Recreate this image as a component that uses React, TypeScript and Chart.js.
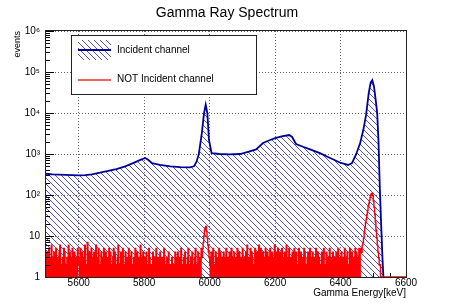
import React, { useEffect, useRef } from "react";
import { Chart, registerables } from "chart.js";

Chart.register(...registerables);

const FONT = "'Liberation Sans', Arial, Helvetica, sans-serif";

const TITLE = "Gamma Ray Spectrum";
const X_TITLE = "Gamma Energy[keV]";
const Y_TITLE = "events";
const X_MIN = 5500;
const X_MAX = 6600;
const X_TICKS = [5600, 5800, 6000, 6200, 6400, 6600];
const X_MINOR_STEP = 50;
const Y_MIN = 1;
const Y_MAX = 1000000;
const Y_TICKS = [1, 10, 100, 1000, 10000, 100000, 1000000];
const Y_TICK_LABELS = ["1", "10", "10²", "10³", "10⁴", "10⁵", "10⁶"];

const INCIDENT_LABEL = "Incident channel";
const NOT_INCIDENT_LABEL = "NOT Incident channel";

// Incident channel spectrum (keV, counts)
const INCIDENT_ENERGY = [
  5500, 5520, 5540, 5560, 5580, 5600, 5620, 5640, 5665, 5690, 5715, 5740, 5766,
  5785, 5803, 5812, 5824, 5848, 5880, 5910, 5940, 5952, 5960, 5967, 5976, 5983,
  5988, 5993, 5998, 6006, 6030, 6060, 6093, 6120, 6142, 6163, 6185, 6200, 6220,
  6243, 6252, 6264, 6285, 6307, 6337, 6368, 6398, 6423, 6435, 6448, 6460, 6470,
  6478, 6486, 6492, 6497, 6502, 6507, 6512, 6516, 6520, 6524, 6528, 6531,
];
const INCIDENT_COUNTS = [
  330, 320, 315, 310, 305, 300, 305, 320, 350, 390, 430, 490, 600,
  700, 800, 720, 600, 540, 500, 480, 470, 500, 650, 1000, 3200, 10000,
  16000, 10000, 2200, 1050, 1000, 980, 1000, 1150, 1300, 1850, 2200, 2450, 2700,
  2900, 2600, 1750, 1500, 1300, 1050, 800, 620, 540, 600, 1000, 1850, 4000,
  9000, 30000, 55000, 63000, 45000, 22000, 10000, 2000, 150, 20, 3, 1,
];

// NOT Incident channel histogram: 2 keV bins starting at 5500 keV (one row = 100 keV)
const NOT_BIN_START = 5500;
const NOT_BIN_WIDTH = 2;
const NOT_INCIDENT_COUNTS = [
  // 5500
  0, 4, 0, 2, 5, 0, 3, 0, 6, 2, 0, 3, 4, 0, 0, 5, 2, 0, 3, 0, 4, 6, 0, 2, 0,
  3, 0, 5, 4, 0, 2, 0, 3, 0, 6, 0, 4, 2, 0, 3, 5, 0, 0, 4, 2, 0, 3, 0, 5, 2,
  // 5600
  3, 0, 5, 0, 2, 4, 0, 3, 0, 6, 0, 2, 0, 7, 3, 0, 4, 0, 2, 5, 0, 3, 0, 4, 0,
  2, 6, 0, 3, 0, 5, 0, 2, 0, 4, 3, 0, 0, 5, 2, 0, 4, 0, 3, 0, 2, 5, 0, 4, 0,
  // 5700
  2, 0, 3, 5, 0, 4, 0, 2, 0, 3, 6, 0, 2, 0, 4, 0, 3, 5, 0, 2, 0, 4, 0, 3, 2,
  0, 5, 0, 3, 0, 4, 2, 0, 0, 3, 0, 5, 2, 0, 4, 0, 3, 0, 2, 6, 0, 3, 0, 4, 2,
  // 5800
  0, 3, 0, 4, 0, 2, 0, 5, 3, 0, 2, 0, 0, 4, 0, 3, 0, 2, 5, 0, 0, 3, 0, 0, 4,
  2, 0, 3, 0, 0, 5, 0, 2, 0, 3, 0, 0, 4, 0, 2, 0, 0, 3, 0, 2, 0, 0, 4, 3, 0,
  // 5900
  0, 4, 0, 2, 3, 0, 5, 0, 2, 0, 3, 0, 4, 2, 0, 0, 3, 5, 0, 2, 0, 3, 0, 4, 0,
  2, 0, 3, 5, 0, 2, 0, 4, 0, 3, 2, 0, 5, 3, 5, 7, 10, 14, 16, 17, 13, 9, 6, 4, 3,
  // 6000
  2, 0, 4, 0, 3, 5, 0, 2, 0, 4, 0, 3, 2, 0, 5, 0, 4, 0, 3, 2, 0, 4, 0, 3, 0,
  5, 2, 0, 3, 0, 4, 0, 2, 5, 0, 3, 0, 4, 2, 0, 3, 0, 5, 0, 2, 4, 0, 3, 0, 2,
  // 6100
  5, 0, 3, 2, 0, 4, 0, 6, 0, 3, 0, 2, 5, 0, 4, 3, 0, 2, 0, 5, 3, 0, 4, 0, 2,
  6, 0, 3, 5, 0, 2, 4, 0, 3, 0, 5, 0, 2, 4, 0, 3, 0, 5, 2, 0, 4, 0, 3, 0, 6,
  // 6200
  0, 4, 2, 0, 5, 0, 3, 4, 0, 2, 5, 0, 3, 0, 4, 2, 0, 6, 0, 3, 0, 5, 2, 0, 3,
  0, 4, 0, 2, 5, 0, 3, 4, 0, 2, 0, 5, 3, 0, 4, 2, 0, 3, 0, 5, 4, 0, 2, 0, 3,
  // 6300
  4, 0, 2, 5, 0, 3, 0, 4, 2, 0, 3, 0, 5, 0, 2, 4, 0, 3, 0, 2, 0, 4, 0, 3, 5,
  0, 2, 0, 4, 0, 3, 2, 0, 5, 0, 3, 0, 2, 4, 0, 0, 3, 0, 4, 2, 0, 5, 0, 3, 2,
  // 6400
  0, 4, 2, 0, 3, 0, 5, 2, 0, 3, 4, 0, 2, 0, 5, 3, 0, 4, 0, 2, 3, 0, 5, 0, 4,
  2, 0, 3, 5, 0, 4, 5, 4, 6, 7, 9, 12, 16, 21, 26, 33, 42, 52, 62, 75, 88, 100, 108, 110, 95,
  // 6500
  70, 50, 33, 22, 14, 9, 6, 4, 3, 2, 2, 1, 1, 0, 0, 0, 0, 0, 0, 0, 0, 0, 0, 0, 0,
  0, 0, 0, 0, 0, 0, 0, 0, 0, 0, 0, 0, 0, 0, 0, 0, 0, 0, 0, 0, 0, 0, 0, 0, 0,
];

const BLUE_LINE = "#000099";
const HATCH_COLOR = "rgba(40,40,215,0.8)";
const HATCH_STEP = 6;
const RED = "#ff0000";
const LEGEND_RED = "#e83030";

function makeHatch(): CanvasPattern | string {
  const s = HATCH_STEP;
  const c = document.createElement("canvas");
  c.width = s;
  c.height = s;
  const g = c.getContext("2d");
  if (!g) return HATCH_COLOR;
  g.strokeStyle = HATCH_COLOR;
  g.lineWidth = 1;
  g.beginPath();
  for (const off of [-s, 0, s]) {
    g.moveTo(off - 1, -1);
    g.lineTo(off + s + 1, s + 1);
  }
  g.stroke();
  return g.createPattern(c, "repeat") || HATCH_COLOR;
}

function hatchRect(ctx: CanvasRenderingContext2D, x: number, y: number, w: number, h: number) {
  ctx.save();
  ctx.beginPath();
  ctx.rect(x, y, w, h);
  ctx.clip();
  ctx.strokeStyle = HATCH_COLOR;
  ctx.lineWidth = 1;
  ctx.beginPath();
  for (let o = -h; o < w + h; o += HATCH_STEP) {
    ctx.moveTo(x + o, y);
    ctx.lineTo(x + o + h, y + h);
  }
  ctx.stroke();
  ctx.restore();
}

export default function App() {
  const ref = useRef<HTMLCanvasElement | null>(null);

  useEffect(() => {
    const canvas = ref.current;
    if (!canvas) return;
    const hatch = makeHatch();

    const bluePoints = INCIDENT_ENERGY.map((x, i) => ({ x, y: INCIDENT_COUNTS[i] }));
    const redPoints = NOT_INCIDENT_COUNTS.map((v, i) => ({
      x: NOT_BIN_START + i * NOT_BIN_WIDTH,
      y: Math.max(v, Y_MIN),
    }));
    redPoints.push({
      x: NOT_BIN_START + NOT_INCIDENT_COUNTS.length * NOT_BIN_WIDTH,
      y: Math.max(NOT_INCIDENT_COUNTS[NOT_INCIDENT_COUNTS.length - 1], Y_MIN),
    });

    const rootPlugin = {
      id: "rootStyle",
      beforeDatasetsDraw(chart: any) {
        const { ctx, chartArea, scales } = chart;
        const xs = scales.x;
        ctx.save();
        ctx.strokeStyle = "#000";
        ctx.lineWidth = 1;
        ctx.beginPath();
        for (let v = X_MIN + X_MINOR_STEP; v < X_MAX; v += X_MINOR_STEP) {
          const px = Math.round(xs.getPixelForValue(v)) + 0.5;
          const major = X_TICKS.includes(v);
          ctx.moveTo(px, chartArea.bottom);
          ctx.lineTo(px, chartArea.bottom - (major ? 8 : 4));
        }
        ctx.stroke();
        ctx.restore();
      },
      afterDatasetsDraw(chart: any) {
        const { ctx, chartArea, scales } = chart;
        const ys = scales.y;
        const left = chartArea.left;
        ctx.save();
        ctx.strokeStyle = "#000";
        ctx.lineWidth = 1;
        ctx.beginPath();
        for (let d = 0; d < Y_TICKS.length - 1; d++) {
          for (let k = 2; k <= 9; k++) {
            const py = Math.round(ys.getPixelForValue(k * Y_TICKS[d])) + 0.5;
            ctx.moveTo(left, py);
            ctx.lineTo(left + 4, py);
          }
        }
        for (const t of Y_TICKS) {
          const py = Math.round(ys.getPixelForValue(t)) + 0.5;
          ctx.moveTo(left, py);
          ctx.lineTo(left + 8, py);
        }
        ctx.stroke();
        ctx.strokeStyle = "#222";
        ctx.strokeRect(
          Math.round(chartArea.left) - 0.5,
          Math.round(chartArea.top) - 0.5,
          Math.round(chartArea.right - chartArea.left) + 1,
          Math.round(chartArea.bottom - chartArea.top) + 1
        );
        ctx.restore();
      },
      afterDraw(chart: any) {
        const { ctx } = chart;
        const ds = chart.data.datasets;
        const bx = 71.5, by = 35.5, bw = 185, bh = 59;
        ctx.save();
        ctx.fillStyle = "#fff";
        ctx.fillRect(bx, by, bw, bh);
        ctx.strokeStyle = "#222";
        ctx.lineWidth = 1;
        ctx.strokeRect(bx, by, bw, bh);
        // entry 1: hatched fill + line
        hatchRect(ctx, 78, 40, 33, 20);
        ctx.strokeStyle = BLUE_LINE;
        ctx.lineWidth = 2;
        ctx.beginPath();
        ctx.moveTo(78, 50);
        ctx.lineTo(111, 50);
        ctx.stroke();
        // entry 2: red line
        ctx.strokeStyle = LEGEND_RED;
        ctx.lineWidth = 1.5;
        ctx.beginPath();
        ctx.moveTo(78, 80);
        ctx.lineTo(111, 80);
        ctx.stroke();
        ctx.fillStyle = "#000";
        ctx.font = `10px ${FONT}`;
        ctx.textBaseline = "middle";
        ctx.textAlign = "left";
        ctx.fillText(ds[1].label, 117, 50);
        ctx.fillText(ds[0].label, 117, 79);
        ctx.restore();
      },
    };

    const chart = new Chart(canvas, {
      type: "line",
      data: {
        datasets: [
          {
            label: NOT_INCIDENT_LABEL,
            data: redPoints,
            stepped: "before",
            borderColor: RED,
            borderWidth: 1.4,
            fill: false,
            pointRadius: 0,
            order: 0,
          },
          {
            label: INCIDENT_LABEL,
            data: bluePoints,
            borderColor: BLUE_LINE,
            borderWidth: 1.8,
            backgroundColor: hatch as any,
            fill: "start",
            pointRadius: 0,
            tension: 0,
            order: 1,
          },
        ],
      },
      options: {
        responsive: false,
        animation: false,
        devicePixelRatio: 1,
        layout: { padding: 0 },
        plugins: {
          legend: { display: false },
          tooltip: { enabled: false },
          title: {
            display: true,
            text: TITLE,
            color: "#000",
            font: { family: FONT, size: 14, weight: "normal" },
            padding: { top: 5, bottom: 9.2 },
          },
        },
        scales: {
          x: {
            type: "linear",
            min: X_MIN,
            max: X_MAX,
            afterBuildTicks: (s: any) => {
              s.ticks = X_TICKS.map((v) => ({ value: v }));
            },
            afterFit: (s: any) => {
              s.height = 27;
            },
            ticks: {
              autoSkip: false,
              maxRotation: 0,
              padding: 0,
              color: "#000",
              font: { family: FONT, size: 10 },
              callback: (v: any) => String(v),
            },
            grid: { color: "rgba(0,0,0,0.6)", lineWidth: 1, drawTicks: false },
            border: { display: false, dash: [1, 2] },
            title: {
              display: true,
              text: X_TITLE,
              align: "end",
              color: "#000",
              font: { family: FONT, size: 10 },
              padding: { top: 0, bottom: 5 },
            },
          },
          y: {
            type: "logarithmic",
            min: Y_MIN,
            max: Y_MAX,
            afterBuildTicks: (s: any) => {
              s.ticks = Y_TICKS.map((v) => ({ value: v }));
            },
            afterFit: (s: any) => {
              s.width = 46;
            },
            ticks: {
              autoSkip: false,
              padding: 6,
              color: "#000",
              font: { family: FONT, size: 10 },
              callback: (_v: any, i: number) => Y_TICK_LABELS[i],
            },
            grid: { color: "rgba(0,0,0,0.6)", lineWidth: 1, drawTicks: false },
            border: { display: false, dash: [1, 2] },
            title: {
              display: true,
              text: Y_TITLE,
              align: "end",
              color: "#000",
              font: { family: FONT, size: 9 },
              padding: { top: 12, bottom: 0 },
            },
          },
          // empty right-hand axis that reserves the right margin of the frame
          yRight: {
            type: "linear",
            position: "right",
            display: true,
            ticks: { display: false },
            grid: { display: false, drawTicks: false },
            border: { display: false },
            afterFit: (s: any) => {
              s.width = 48;
            },
          },
        },
      },
      plugins: [rootPlugin],
    });

    return () => chart.destroy();
  }, []);

  return (
    <div style={{ position: "absolute", left: 0, top: 0, width: 454, height: 304, background: "#fff" }}>
      <canvas ref={ref} width={454} height={304} style={{ display: "block" }} />
    </div>
  );
}
